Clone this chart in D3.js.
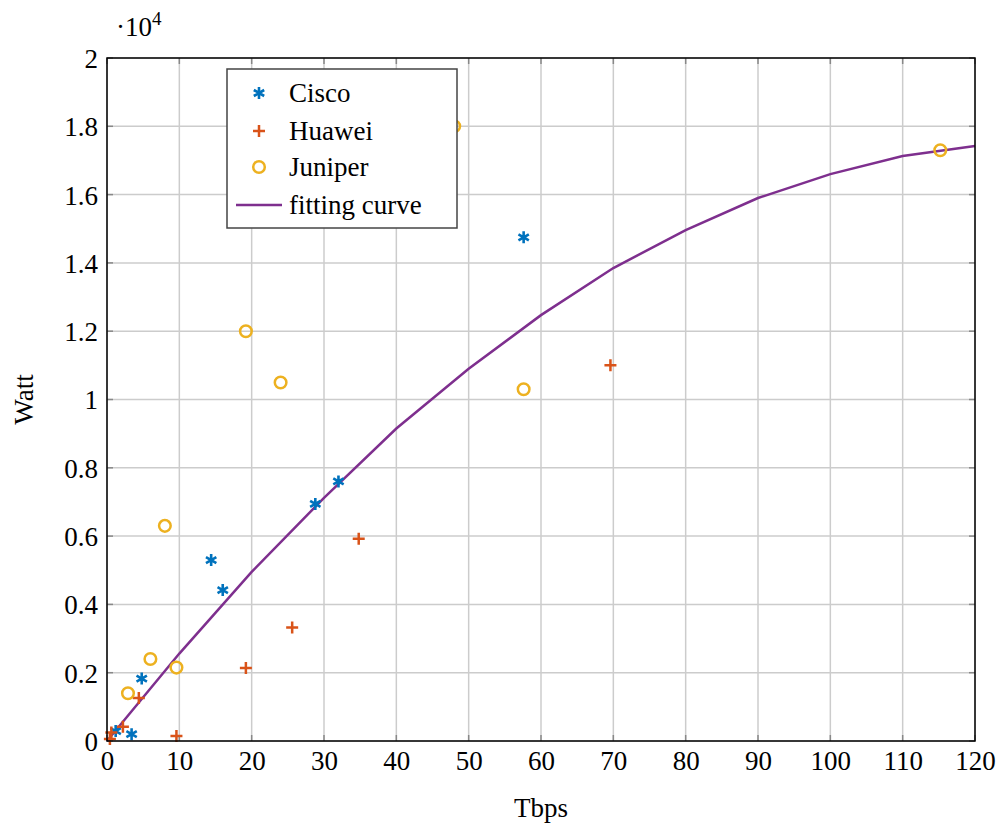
<!DOCTYPE html>
<html>
<head>
<meta charset="utf-8">
<script src="https://cdn.jsdelivr.net/npm/d3@7"></script>
<style>
  body { margin: 0; background: #fff; }
  svg text { font-family: "Liberation Serif", "Times New Roman", Times, Tinos, "Noto Serif", "DejaVu Serif", serif !important; fill: #000; }
</style>
</head>
<body>
<div id="chart"></div>
<script>
// data (Tbps, Watt)
var ciscoX = [1.2, 3.4, 4.8, 14.4, 16, 28.8, 32, 57.6];
var ciscoY = [290, 200, 1830, 5300, 4420, 6940, 7600, 14750];
var huaweiX = [0.4, 0.6, 2.2, 4.4, 9.6, 19.2, 25.6, 34.8, 69.6];
var huaweiY = [60, 250, 420, 1260, 150, 2140, 3320, 5920, 11000];
var juniperX = [2.9, 6, 8, 9.6, 19.2, 24, 48, 57.6, 115.2];
var juniperY = [1400, 2400, 6300, 2150, 12000, 10500, 18000, 10300, 17300];
var fitX = [0, 10, 20, 30, 40, 50, 60, 70, 80, 90, 100, 110, 120];
var fitY = [0, 2560, 4950, 7120, 9150, 10900, 12470, 13850, 14960, 15900, 16600, 17130, 17420];
var xTicks = d3.range(0, 121, 10);
var yTicks = [0, 2000, 4000, 6000, 8000, 10000, 12000, 14000, 16000, 18000, 20000];

function init() {
  var w = 1003, h = 830;
  var left = 107, right = 975, top = 58, bottom = 741;

  var svg = d3.select("#chart").append("svg")
      .attr("width", w).attr("height", h);

  var x = d3.scaleLinear().domain([0, 120]).range([left, right]);
  var y = d3.scaleLinear().domain([0, 20000]).range([bottom, top]);

  // grid
  svg.append("g").selectAll("line").data(xTicks).enter().append("line")
      .attr("x1", d => x(d)).attr("x2", d => x(d))
      .attr("y1", top).attr("y2", bottom)
      .attr("stroke", "#cccccc").attr("stroke-width", 1.5);
  svg.append("g").selectAll("line").data(yTicks).enter().append("line")
      .attr("x1", left).attr("x2", right)
      .attr("y1", d => y(d)).attr("y2", d => y(d))
      .attr("stroke", "#cccccc").attr("stroke-width", 1.5);

  // inner ticks
  var tk = 6;
  var ticks = svg.append("g").attr("stroke", "#888").attr("stroke-width", 1.5);
  xTicks.forEach(function(d) {
    ticks.append("line").attr("x1", x(d)).attr("x2", x(d)).attr("y1", bottom).attr("y2", bottom - tk);
    ticks.append("line").attr("x1", x(d)).attr("x2", x(d)).attr("y1", top).attr("y2", top + tk);
  });
  yTicks.forEach(function(d) {
    ticks.append("line").attr("x1", left).attr("x2", left + tk).attr("y1", y(d)).attr("y2", y(d));
    ticks.append("line").attr("x1", right).attr("x2", right - tk).attr("y1", y(d)).attr("y2", y(d));
  });

  // tick labels via d3 axes (no lines)
  var xAxis = svg.append("g").attr("transform", "translate(0," + bottom + ")")
      .call(d3.axisBottom(x).tickValues(xTicks).tickSize(0).tickPadding(9));
  xAxis.attr("font-family", null);
  xAxis.select(".domain").remove();
  xAxis.selectAll("text").attr("font-size", 27).attr("dy", "0.75em");

  var yAxis = svg.append("g").attr("transform", "translate(" + left + ",0)")
      .call(d3.axisLeft(y).tickValues(yTicks).tickSize(0).tickPadding(9)
        .tickFormat(d => d3.format("")(d / 10000)));
  yAxis.attr("font-family", null);
  yAxis.select(".domain").remove();
  yAxis.selectAll("text").attr("font-size", 27).attr("dy", "0.35em");

  // fitting curve
  var line = d3.line().x((d, i) => x(fitX[i])).y(d => y(d));
  svg.append("path").datum(fitY)
      .attr("d", line).attr("fill", "none")
      .attr("stroke", "#7E2F8E").attr("stroke-width", 2.5);

  // markers
  function asterisk(g, cx, cy, color) {
    var r = 6;
    var p = "";
    [90, 30, -30].forEach(function(a) {
      var rad = a * Math.PI / 180;
      var dx = r * Math.cos(rad), dy = r * Math.sin(rad);
      p += "M" + (cx - dx) + "," + (cy - dy) + "L" + (cx + dx) + "," + (cy + dy);
    });
    g.append("path").attr("d", p).attr("stroke", color).attr("stroke-width", 2.6).attr("fill", "none");
  }
  function plus(g, cx, cy, color) {
    var r = 6;
    g.append("path")
      .attr("d", "M" + (cx - r) + "," + cy + "L" + (cx + r) + "," + cy + "M" + cx + "," + (cy - r) + "L" + cx + "," + (cy + r))
      .attr("stroke", color).attr("stroke-width", 2.5).attr("fill", "none");
  }
  function circ(g, cx, cy, color) {
    g.append("circle").attr("cx", cx).attr("cy", cy).attr("r", 5.8)
      .attr("stroke", color).attr("stroke-width", 2.5).attr("fill", "none");
  }

  var marks = svg.append("g");
  ciscoX.forEach((d, i) => asterisk(marks, x(d), y(ciscoY[i]), "#0072BD"));
  huaweiX.forEach((d, i) => plus(marks, x(d), y(huaweiY[i]), "#D95319"));
  juniperX.forEach((d, i) => circ(marks, x(d), y(juniperY[i]), "#EDB120"));

  // frame
  svg.append("rect").attr("x", left).attr("y", top)
      .attr("width", right - left).attr("height", bottom - top)
      .attr("fill", "none").attr("stroke", "#000").attr("stroke-width", 1.5);

  // axis titles
  svg.append("text").attr("x", (left + right) / 2).attr("y", 817)
      .attr("text-anchor", "middle").attr("font-size", 27).text("Tbps");
  svg.append("text").attr("transform", "translate(33," + ((top + bottom) / 2) + ") rotate(-90)")
      .attr("text-anchor", "middle").attr("font-size", 27).text("Watt");

  // exponent
  var ex = svg.append("text").attr("x", 116).attr("y", 36).attr("font-size", 27);
  ex.append("tspan").text("\u00b710");
  ex.append("tspan").attr("font-size", 19).attr("dy", -11).text("4");

  // legend
  var lg = svg.append("g");
  lg.append("rect").attr("x", 227).attr("y", 69).attr("width", 230).attr("height", 159)
      .attr("fill", "#fff").attr("stroke", "#444").attr("stroke-width", 1.5);
  var names = ["Cisco", "Huawei", "Juniper", "fitting curve"];
  var ly = [93, 131, 167, 205];
  asterisk(lg, 259, ly[0], "#0072BD");
  plus(lg, 259, ly[1], "#D95319");
  circ(lg, 259, ly[2], "#EDB120");
  lg.append("line").attr("x1", 236).attr("x2", 282).attr("y1", ly[3]).attr("y2", ly[3])
      .attr("stroke", "#7E2F8E").attr("stroke-width", 2.5);
  names.forEach(function(n, i) {
    lg.append("text").attr("x", 289).attr("y", ly[i]).attr("dy", "0.35em")
      .attr("font-size", 27).text(n);
  });
}
window.onload = init;
</script>
</body>
</html>
